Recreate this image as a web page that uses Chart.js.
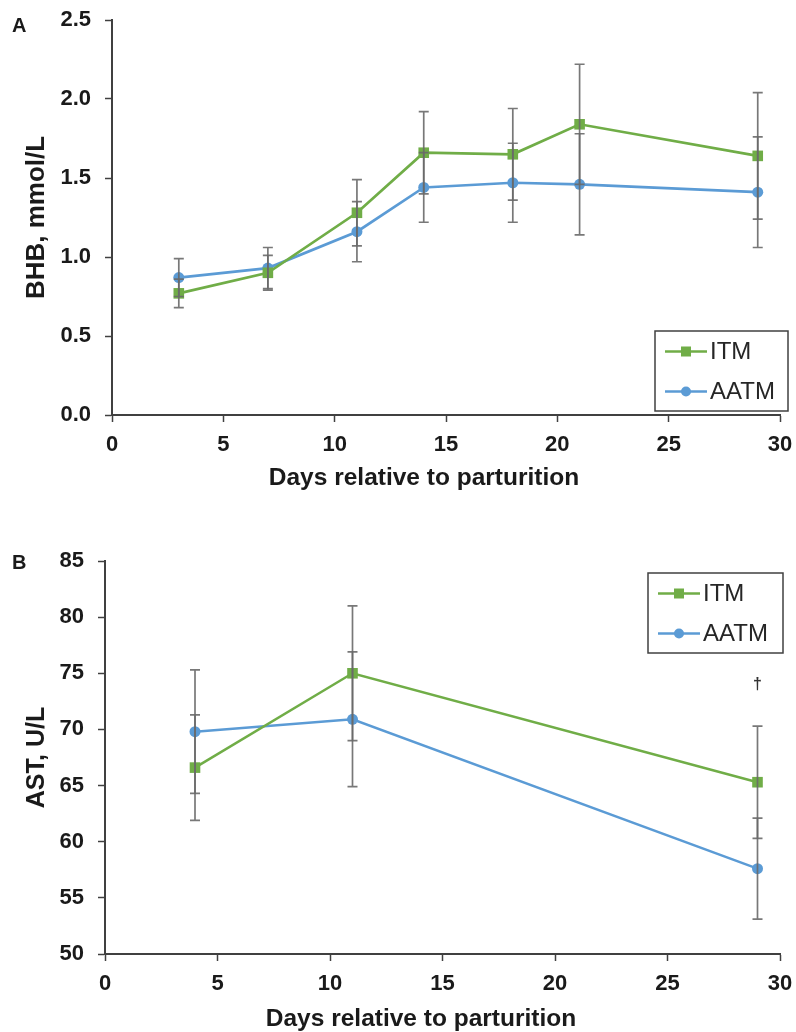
<!DOCTYPE html>
<html>
<head>
<meta charset="utf-8">
<script src="https://cdn.jsdelivr.net/npm/chart.js@4.4.1/dist/chart.umd.min.js"></script>
<style>
body{margin:0;background:#fff;width:796px;height:1032px;position:relative;overflow:hidden}
.panel{position:absolute;left:0;width:796px;height:516px}
.lbl{position:absolute;font:bold 20px "Liberation Sans",Arial,sans-serif;color:#1a1a1a;line-height:20px}
.xt{position:absolute;width:440px;text-align:center;font:bold 24.5px "Liberation Sans",Arial,sans-serif;color:#1a1a1a;line-height:28px}
</style>
</head>
<body>
<div class="panel" style="top:-10px"><canvas id="chartA" width="796" height="516"></canvas></div>
<div class="panel" style="top:516px"><canvas id="chartB" width="796" height="516"></canvas></div>
<div class="lbl" style="left:12px;top:15px">A</div>
<div class="lbl" style="left:12px;top:552px">B</div>
<div class="xt" style="left:204px;top:463px">Days relative to parturition</div>
<div class="xt" style="left:201px;top:1004px">Days relative to parturition</div>
<script>
// Panel A - BHB
const daysA = [3, 7, 11, 14, 18, 21, 29];
const itmA = [0.77, 0.90, 1.28, 1.66, 1.65, 1.84, 1.64];
const aatmA = [0.87, 0.93, 1.16, 1.44, 1.47, 1.46, 1.41];
const itmAErr = [0.09, 0.11, 0.21, 0.26, 0.29, 0.38, 0.40];
const aatmAErr = [0.12, 0.13, 0.19, 0.22, 0.25, 0.32, 0.35];

// Panel B - AST
const daysB = [4, 11, 29];
const itmB = [66.6, 75.0, 65.3];
const aatmB = [69.8, 70.9, 57.6];
const itmBErr = [4.7, 6.0, 5.0];
const aatmBErr = [5.5, 6.0, 4.5];
const daggerB = [{x: 29, y: 74}];

const seriesNames = ["ITM", "AATM"];
const green = "#70ad47";
const blue = "#5b9bd5";
const fontFam = "'Liberation Sans', Arial, sans-serif";

function pts(xs, ys){
  return xs.map((d, i) => ({x: d, y: ys[i]}));
}

const errorBars = {
  id: "errorBars",
  afterDatasetsDraw(chart){
    const {ctx, scales: {x, y}} = chart;
    ctx.save();
    ctx.strokeStyle = "rgba(105,105,105,0.9)";
    ctx.lineWidth = 1.7;
    chart.data.datasets.forEach(ds => {
      ds.data.forEach((p, i) => {
        const e = ds.errors[i];
        const px = x.getPixelForValue(p.x);
        const t = y.getPixelForValue(p.y + e);
        const b = y.getPixelForValue(p.y - e);
        ctx.beginPath();
        ctx.moveTo(px, t); ctx.lineTo(px, b);
        ctx.moveTo(px - 5, t); ctx.lineTo(px + 5, t);
        ctx.moveTo(px - 5, b); ctx.lineTo(px + 5, b);
        ctx.stroke();
      });
    });
    ctx.restore();
  }
};

const boxLegend = {
  id: "boxLegend",
  afterDraw(chart, args, opts){
    const {ctx} = chart;
    const {x, y, w, h} = opts;
    ctx.save();
    ctx.fillStyle = "#fff";
    ctx.fillRect(x, y, w, h);
    ctx.strokeStyle = "#404040";
    ctx.lineWidth = 1.5;
    ctx.strokeRect(x, y, w, h);
    chart.data.datasets.forEach((ds, i) => {
      const ry = y + 20.5 + 40 * i;
      ctx.strokeStyle = ds.borderColor;
      ctx.lineWidth = 2.5;
      ctx.beginPath();
      ctx.moveTo(x + 10, ry); ctx.lineTo(x + 52, ry);
      ctx.stroke();
      ctx.fillStyle = ds.borderColor;
      if (ds.pointStyle === "rect"){
        ctx.fillRect(x + 26, ry - 5, 10, 10);
      } else {
        ctx.beginPath();
        ctx.arc(x + 31, ry, 5, 0, Math.PI * 2);
        ctx.fill();
      }
      ctx.fillStyle = "#262626";
      ctx.font = "24px " + fontFam;
      ctx.textBaseline = "middle";
      ctx.fillText(ds.label, x + 55, ry + 1);
    });
    ctx.restore();
  }
};

const daggers = {
  id: "daggers",
  afterDraw(chart, args, opts){
    if (!opts.marks) return;
    const {ctx, scales: {x, y}} = chart;
    ctx.save();
    ctx.fillStyle = "#333";
    ctx.font = "bold 16px " + fontFam;
    ctx.textAlign = "center";
    ctx.textBaseline = "middle";
    opts.marks.forEach(m => ctx.fillText("\u2020", x.getPixelForValue(m.x), y.getPixelForValue(m.y)));
    ctx.restore();
  }
};

function makeChart(id, cfg){
  const tickFont = {family: fontFam, size: 22, weight: "bold"};
  return new Chart(document.getElementById(id), {
    type: "line",
    data: {
      datasets: [{
        label: seriesNames[0],
        data: pts(cfg.days, cfg.itm),
        errors: cfg.itmErr,
        borderColor: green,
        backgroundColor: green,
        borderWidth: cfg.lw,
        pointStyle: "rect",
        pointRadius: 7.5,
        pointBorderWidth: 0,
        tension: 0
      }, {
        label: seriesNames[1],
        data: pts(cfg.days, cfg.aatm),
        errors: cfg.aatmErr,
        borderColor: blue,
        backgroundColor: blue,
        borderWidth: cfg.lw,
        pointStyle: "circle",
        pointRadius: 5.5,
        pointBorderWidth: 0,
        tension: 0
      }]
    },
    options: {
      responsive: false,
      animation: false,
      layout: {padding: {left: 0, right: 16, top: cfg.top, bottom: 0}},
      plugins: {
        legend: {display: false},
        tooltip: {enabled: false},
        boxLegend: cfg.legend,
        daggers: {marks: cfg.marks}
      },
      scales: {
        x: {
          type: "linear",
          min: 0, max: 30,
          ticks: {stepSize: 5, font: tickFont, color: "#1a1a1a", padding: 10, maxRotation: 0},
          grid: {drawOnChartArea: false, tickLength: 7, tickColor: "#404040", tickWidth: 1.5},
          border: {color: "#404040", width: 2},
          afterFit(s){ s.height = cfg.xh; s.paddingRight = 0; s.paddingLeft = 0; }
        },
        y: {
          min: cfg.ymin, max: cfg.ymax,
          ticks: {stepSize: cfg.step, font: tickFont, color: "#1a1a1a", padding: 14,
            callback: v => cfg.dec ? v.toFixed(1) : v},
          grid: {drawOnChartArea: false, tickLength: 7, tickColor: "#404040", tickWidth: 1.5},
          border: {color: "#404040", width: 2},
          title: {display: true, text: cfg.ytitle, color: "#1a1a1a",
            font: {family: fontFam, size: cfg.ytsize, weight: "bold"}, padding: {top: cfg.ytpad, bottom: 0}},
          afterFit(s){ s.width = cfg.yw; }
        }
      }
    },
    plugins: [errorBars, boxLegend, daggers]
  });
}

makeChart("chartA", {
  days: daysA, itm: itmA, aatm: aatmA, itmErr: itmAErr, aatmErr: aatmAErr,
  ymin: 0, ymax: 2.5, step: 0.5, dec: true, ytitle: "BHB, mmol/L",
  top: 30, xh: 91, yw: 112, lw: 2.7, ytsize: 26, ytpad: 21,
  legend: {x: 655, y: 341, w: 133, h: 80},
  marks: null
});

makeChart("chartB", {
  days: daysB, itm: itmB, aatm: aatmB, itmErr: itmBErr, aatmErr: aatmBErr,
  ymin: 50, ymax: 85, step: 5, dec: false, ytitle: "AST, U/L",
  top: 45, xh: 78, yw: 105, lw: 2.5, ytsize: 25, ytpad: 22,
  legend: {x: 648, y: 57, w: 135, h: 80},
  marks: daggerB
});
</script>
</body>
</html>
